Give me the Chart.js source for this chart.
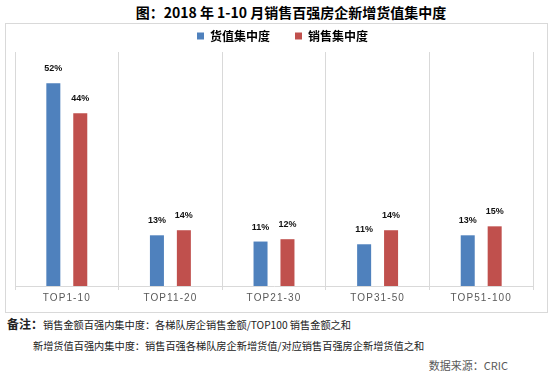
<!DOCTYPE html>
<html>
<head>
<meta charset="utf-8">
<script src="https://cdn.jsdelivr.net/npm/chart.js@4/dist/chart.umd.min.js"></script>
<style>
  html, body { margin: 0; padding: 0; background: #fff; overflow: hidden; }
  body { width: 553px; height: 375px; position: relative; font-family: "Noto Sans CJK SC", sans-serif; }
  #title { position: absolute; left: 0; top: 3px; width: 582px; text-align: center; font-size: 14px; line-height: 18px; font-weight: bold; color: #000; }
  #frame { position: absolute; left: 5px; top: 23px; width: 541px; height: 288px; border: 1px solid #d9d9d9; }
  #wrap { position: absolute; left: 0; top: 5px; width: 553px; height: 305px; }
  .note { position: absolute; font-size: 10.2px; line-height: 14px; color: #222; white-space: nowrap; }
  .note b { font-size: 12px; }
  #src { position: absolute; right: 45px; top: 358px; font-size: 11px; line-height: 15px; color: #595959; }
</style>
</head>
<body>
<div id="title">图：2018 年 1-10 月销售百强房企新增货值集中度</div>
<div id="frame"></div>
<div id="wrap"><canvas id="chart"></canvas></div>
<div class="note" style="left:7px; top:317px;"><b>备注：</b>销售金额百强内集中度：各梯队房企销售金额/TOP100 销售金额之和</div>
<div class="note" style="left:33px; top:339px;">新增货值百强内集中度：销售百强各梯队房企新增货值/对应销售百强房企新增货值之和</div>
<div id="src">数据来源：CRIC</div>
<script>
(() => {

const categories = ["TOP1-10", "TOP11-20", "TOP21-30", "TOP31-50", "TOP51-100"];
const stockShare = [52.0, 13.0, 11.4, 10.7, 13.0];   // 货值集中度
const salesShare = [44.3, 14.3, 12.0, 14.3, 15.3];   // 销售集中度

/* ---------- PLUGINS ---------- */

const valueLabels = {
  id: "valueLabels",
  afterDatasetsDraw(chart) {
    const ctx = chart.ctx;
    ctx.save();
    ctx.font = 'bold 9px "Liberation Sans", Arial, sans-serif';
    ctx.fillStyle = "#111";
    ctx.textAlign = "center";
    ctx.textBaseline = "middle";
    chart.data.datasets.forEach((ds, i) => {
      chart.getDatasetMeta(i).data.forEach((bar, j) => {
        ctx.fillText(Math.round(ds.data[j]) + "%", bar.x, bar.y - 14.5);
      });
    });
    ctx.restore();
  }
};

// spaced-out category labels
const spacedTicks = {
  id: "spacedTicks",
  beforeDraw(chart) {
    const xs = chart.scales.x;
    if (!xs || xs._spaced) return;
    const orig = xs.drawLabels;
    xs.drawLabels = function (area) {
      this.ctx.save();
      this.ctx.letterSpacing = "1.1px";
      orig.call(this, area);
      this.ctx.restore();
    };
    xs._spaced = true;
  }
};

/* ---------- CHART ---------- */

new Chart(document.getElementById("chart"), {
  type: "bar",
  data: {
    labels: categories,
    datasets: [
      {
        label: "货值集中度",
        data: stockShare,
        backgroundColor: "#4f81bd",
        categoryPercentage: 0.52,
        barPercentage: 0.52
      },
      {
        label: "销售集中度",
        data: salesShare,
        backgroundColor: "#c0504d",
        categoryPercentage: 0.52,
        barPercentage: 0.52
      }
    ]
  },
  options: {
    responsive: true,
    maintainAspectRatio: false,
    animation: false,
    layout: { padding: { left: 15, right: 3, top: 0, bottom: 4 } },
    plugins: {
      legend: {
        position: "top",
        labels: {
          boxWidth: 7,
          boxHeight: 7,
          padding: 25,
          color: "#000",
          font: { family: '"Noto Sans CJK SC", sans-serif', size: 12, weight: "bold" }
        }
      },
      tooltip: { enabled: false }
    },
    scales: {
      x: {
        grid: { color: "#d9d9d9", tickLength: 4, offset: true },
        border: { color: "#d9d9d9" },
        ticks: {
          color: "#595959",
          padding: 2,
          font: { family: '"Liberation Sans", Arial, sans-serif', size: 10 }
        }
      },
      y: {
        position: "right",
        min: 0,
        max: 60,
        grid: { display: false },
        border: { display: false },
        ticks: { display: false },
        afterFit: s => { s.width = 17; }
      }
    }
  },
  plugins: [valueLabels, spacedTicks]
});

})();
</script>
</body>
</html>
